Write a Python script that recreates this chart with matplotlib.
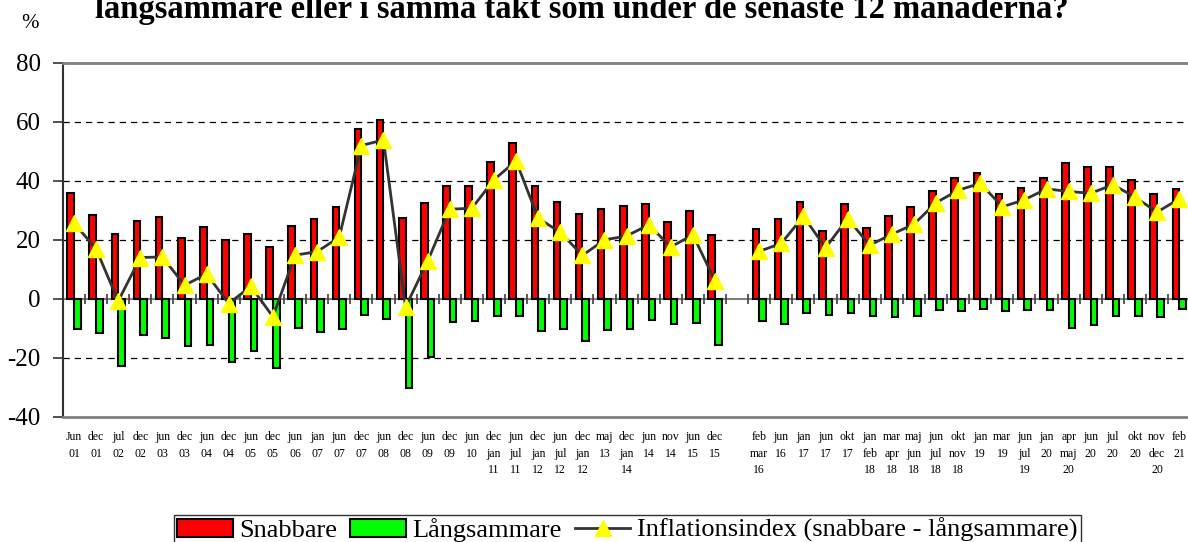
import numpy as np
import matplotlib
matplotlib.use("Agg")
import matplotlib.pyplot as plt
from matplotlib.patches import Patch
from matplotlib.lines import Line2D

plt.rcParams["font.family"] = ["Liberation Serif", "DejaVu Serif"]
plt.rcParams["axes.unicode_minus"] = False

# category labels (empty string = blank gap category)
labels = [
    "Jun\n01", "dec\n01", "jul\n02", "dec\n02", "jun\n03", "dec\n03", "jun\n04",
    "dec\n04", "jun\n05", "dec\n05", "jun\n06", "jan\n07", "jun\n07", "dec\n07",
    "jun\n08", "dec\n08", "jun\n09", "dec\n09", "jun\n10", "dec\njan\n11",
    "jun\njul\n11", "dec\njan\n12", "jun\njul\n12", "dec\njan\n12", "maj\n13",
    "dec\njan\n14", "jun\n14", "nov\n14", "jun\n15", "dec\n15",
    "",
    "feb\nmar\n16", "jun\n16", "jan\n17", "jun\n17", "okt\n17", "jan\nfeb\n18",
    "mar\napr\n18", "maj\njun\n18", "jun\njul\n18", "okt\nnov\n18", "jan\n19",
    "mar\n19", "jun\njul\n19", "jan\n20", "apr\nmaj\n20", "jun\n20", "jul\n20",
    "okt\n20", "nov\ndec\n20", "feb\n21",
]

nan = np.nan
snabbare = [
    36.0, 28.4, 22.0, 26.3, 27.6, 20.6, 24.2, 19.9, 21.9, 17.5, 24.7, 27.1,
    31.2, 57.5, 60.7, 27.3, 32.4, 38.3, 38.3, 46.3, 52.7, 38.3, 33.0, 28.9,
    30.6, 31.4, 32.3, 26.0, 29.8, 21.8,
    nan,
    23.6, 27.2, 32.9, 22.9, 32.1, 24.0, 28.0, 31.1, 36.4, 41.0, 42.7, 35.4,
    37.5, 41.0, 46.2, 44.7, 44.7, 40.3, 35.5, 37.2,
]
langsammare = [
    -10.3, -11.5, -22.8, -12.3, -13.4, -16.0, -15.8, -21.5, -17.7, -23.6, -9.9,
    -11.1, -10.3, -5.5, -6.8, -30.1, -19.6, -7.9, -7.6, -5.9, -5.9, -11.0,
    -10.4, -14.2, -10.6, -10.1, -7.2, -8.4, -8.1, -15.7,
    nan,
    -7.5, -8.4, -4.9, -5.6, -4.9, -5.8, -6.1, -5.8, -3.8, -4.2, -3.5, -4.2,
    -3.9, -3.7, -9.8, -8.9, -6.0, -5.8, -6.1, -3.3,
]
inflationsindex = [
    25.7, 16.9, -0.8, 14.0, 14.2, 4.6, 8.4, -1.6, 4.2, -6.1, 14.8, 16.0, 20.9,
    52.0, 53.9, -2.8, 12.8, 30.4, 30.7, 40.4, 46.8, 27.3, 22.6, 14.7, 20.0,
    21.3, 25.1, 17.6, 21.7, 6.1,
    nan,
    16.1, 18.8, 28.0, 17.3, 27.2, 18.2, 21.9, 25.3, 32.6, 36.8, 39.2, 31.2,
    33.6, 37.3, 36.4, 35.8, 38.7, 34.5, 29.4, 33.9,
]

yticks = [-40, -20, 0, 20, 40, 60, 80]
gridlines = [-20, 20, 40, 60]

x = np.arange(len(labels))
s = np.array(snabbare)
l = np.array(langsammare)
ok = ~np.isnan(s)

fig = plt.figure(figsize=(11.88, 5.42), dpi=100)
ax = fig.add_axes([0.053, 0.2312, 0.947, 0.6526])

bw = 0.3
for g in gridlines:
    ax.axhline(g, color="black", lw=0.9, ls=(0, (5, 4)), zorder=0)
ax.axhline(0, color="#808080", lw=1.5, zorder=1)
ax.plot(np.arange(-0.5, len(labels), 1.0), np.zeros(len(labels) + 1),
        ls="none", marker="|", ms=7, mew=1.2, color="#404040", zorder=1)

ax.bar(x[ok] - bw / 2, s[ok], width=bw, color="#ff0000", edgecolor="black",
       linewidth=1.5, zorder=2)
ax.bar(x[ok] + bw / 2, l[ok], width=bw, color="#00ff00", edgecolor="black",
       linewidth=1.5, zorder=2)
ax.plot(x, inflationsindex, color="#333333", lw=2, marker="^", ms=11,
        mfc="#ffff00", mec="#ffff00", zorder=3)

ax.set_xlim(-0.5, 50.4)
ax.set_ylim(-40, 80)
ax.set_yticks(yticks)
ax.set_yticklabels([str(v) for v in yticks], fontsize=18)
ax.tick_params(axis="y", direction="out", length=7, width=1.2, pad=9,
               color="#333333")
ax.set_xticks(x)
ax.set_xticklabels(labels, fontsize=8.5, linespacing=1.55, va="top")
ax.tick_params(axis="x", length=0, pad=10)

ax.spines["left"].set_color("#333333")
ax.spines["left"].set_linewidth(1.5)
for side in ("top", "bottom"):
    ax.spines[side].set_color("#808080")
    ax.spines[side].set_linewidth(2)
ax.spines["right"].set_visible(False)

fig.text(0.018, 0.948, "%", fontsize=15)
fig.text(0.49, 0.966, "långsammare eller i samma takt som under de senaste 12 månaderna?",
         fontsize=23.5, fontweight="bold", ha="center", va="baseline")

handles = [
    Patch(facecolor="#ff0000", edgecolor="black", linewidth=1.5),
    Patch(facecolor="#00ff00", edgecolor="black", linewidth=1.5),
    Line2D([], [], color="#333333", lw=2, marker="^", ms=11,
           mfc="#ffff00", mec="#ffff00"),
]
leg = fig.legend(handles, ["Snabbare", "Långsammare",
                           "Inflationsindex (snabbare - långsammare)"],
                 loc="upper center", bbox_to_anchor=(0.528, 0.05), ncol=3,
                 fontsize=19, frameon=True, fancybox=False, handlelength=2.1,
                 handletextpad=0.25, columnspacing=0.5, borderpad=0.12,
                 borderaxespad=0)
leg.get_frame().set_edgecolor("black")
leg.get_frame().set_linewidth(1)

fig.savefig("out.png", dpi=100)
